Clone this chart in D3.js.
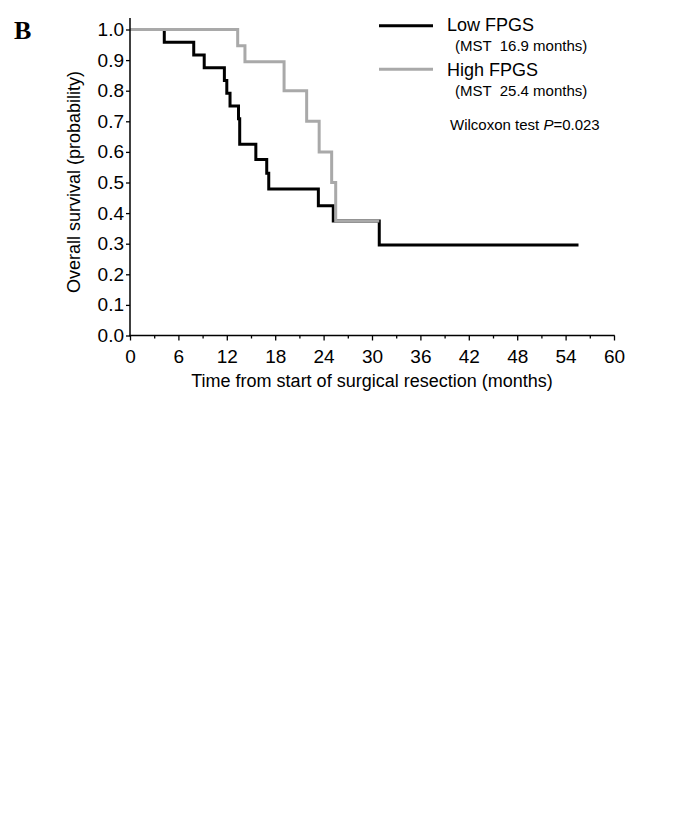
<!DOCTYPE html>
<html>
<head>
<meta charset="utf-8">
<script src="https://cdn.jsdelivr.net/npm/d3@7"></script>
<style>
  html, body { margin: 0; padding: 0; background: #fff; }
  svg { display: block; }
  text { font-family: "Liberation Sans", Arial, sans-serif; fill: #000; }
</style>
</head>
<body>
<svg id="chart" width="688" height="827"></svg>
<script>
// ---- Data ----
const panelLabel = "B";
const xTicks = [0, 6, 12, 18, 24, 30, 36, 42, 48, 54, 60];
const xMinorTicks = [3, 9, 15, 21, 27, 33, 39, 45, 51, 57];
const yTicks = [0.0, 0.1, 0.2, 0.3, 0.4, 0.5, 0.6, 0.7, 0.8, 0.9, 1.0];
const xTitle = "Time from start of surgical resection (months)";
const yTitle = "Overall survival (probability)";

// Low FPGS Kaplan-Meier steps: event times and survival after each step
const lowTimes = [0, 4.25, 7.9, 9.2, 11.7, 12.0, 12.4, 13.45, 13.6, 15.6, 16.95, 17.2, 23.35, 25.2, 30.9, 55.6];
const lowSurv  = [1.0, 0.958, 0.917, 0.875, 0.833, 0.792, 0.75, 0.708, 0.625, 0.575, 0.53, 0.479, 0.424, 0.374, 0.296, 0.296];

// High FPGS Kaplan-Meier steps
const highTimes = [0, 13.35, 14.25, 19.1, 21.9, 23.45, 25.0, 25.5, 30.9];
const highSurv  = [1.0, 0.947, 0.895, 0.80, 0.70, 0.60, 0.50, 0.374, 0.374];

const seriesNames = ["Low FPGS", "High FPGS"];
const seriesNotes = ["(MST  16.9 months)", "(MST  25.4 months)"];
const seriesColors = ["#000000", "#a9a9a9"];
const testLabel = "Wilcoxon test ";
const testP = "P";
const testValue = "=0.023";

// ---- Drawing ----
const svg = d3.select("#chart");
const x = d3.scaleLinear().domain([0, 60]).range([130, 614]);
const y = d3.scaleLinear().domain([0, 1]).range([335.5, 29.5]);

// Curves (low first, high on top)
const stepLine = d3.line().x(d => x(d[0])).y(d => y(d[1])).curve(d3.curveStepAfter);
const lowData = lowTimes.map((t, i) => [t, lowSurv[i]]);
const highData = highTimes.map((t, i) => [t, highSurv[i]]);

svg.append("path").datum(lowData)
  .attr("d", stepLine).attr("fill", "none")
  .attr("stroke", seriesColors[0]).attr("stroke-width", 3)
  .attr("stroke-linejoin", "miter").attr("stroke-linecap", "butt");
svg.append("path").datum(highData)
  .attr("d", stepLine).attr("fill", "none")
  .attr("stroke", seriesColors[1]).attr("stroke-width", 3)
  .attr("stroke-linejoin", "miter").attr("stroke-linecap", "butt");

// Y axis
const yAxis = d3.axisLeft(y).tickValues(yTicks).tickFormat(d3.format(".1f"))
  .tickSize(4).tickPadding(2);
const gy = svg.append("g").attr("transform", "translate(130,0)").call(yAxis);
gy.select(".domain").remove();
gy.append("line").attr("x1", 0).attr("x2", 0).attr("y1", 18).attr("y2", 336.2)
  .attr("stroke", "#000").attr("stroke-width", 1.5);
gy.selectAll(".tick line").attr("stroke", "#000").attr("stroke-width", 1.3);
gy.selectAll(".tick text").attr("font-size", 19).attr("fill", "#000")
  .style("font-family", "'Liberation Sans', Arial, sans-serif");

// X axis
const xAxis = d3.axisBottom(x).tickValues(xTicks).tickFormat(d3.format("d"))
  .tickSize(5).tickPadding(9);
const gx = svg.append("g").attr("transform", "translate(0,335.5)").call(xAxis);
gx.select(".domain").remove();
gx.append("line").attr("x1", 129.3).attr("x2", 614.7).attr("y1", 0).attr("y2", 0)
  .attr("stroke", "#000").attr("stroke-width", 1.5);
gx.selectAll(".tick line").attr("stroke", "#000").attr("stroke-width", 1.3);
gx.selectAll(".tick text").attr("font-size", 19).attr("fill", "#000")
  .style("font-family", "'Liberation Sans', Arial, sans-serif");
const xMinor = d3.axisBottom(x).tickValues(xMinorTicks).tickFormat("").tickSize(3);
const gxm = svg.append("g").attr("transform", "translate(0,335.5)").call(xMinor);
gxm.select(".domain").remove();
gxm.selectAll(".tick line").attr("stroke", "#000").attr("stroke-width", 1.3);

// Axis titles
svg.append("text").attr("x", 372).attr("y", 387).attr("text-anchor", "middle")
  .attr("font-size", 18).text(xTitle);
svg.append("text").attr("transform", "translate(80,182) rotate(-90)")
  .attr("text-anchor", "middle").attr("font-size", 18).text(yTitle);

// Panel label
svg.append("text").attr("x", 14).attr("y", 39)
  .style("font-family", "'Liberation Serif', 'Times New Roman', serif")
  .attr("font-weight", "bold").attr("font-size", 26).text(panelLabel);

// Legend
const legendY = [25.7, 69.3];
const nameY = [31, 76];
const noteY = [51, 96];
seriesNames.forEach((name, i) => {
  svg.append("line").attr("x1", 379).attr("x2", 433).attr("y1", legendY[i]).attr("y2", legendY[i])
    .attr("stroke", seriesColors[i]).attr("stroke-width", 3);
  svg.append("text").attr("x", 447).attr("y", nameY[i]).attr("font-size", 18).text(name);
  svg.append("text").attr("x", 455).attr("y", noteY[i]).attr("font-size", 15)
    .style("white-space", "pre").text(seriesNotes[i]);
});
const wt = svg.append("text").attr("x", 450).attr("y", 130).attr("font-size", 15);
wt.append("tspan").text(testLabel).style("white-space", "pre");
wt.append("tspan").attr("font-style", "italic").text(testP);
wt.append("tspan").text(testValue);
</script>
</body>
</html>
